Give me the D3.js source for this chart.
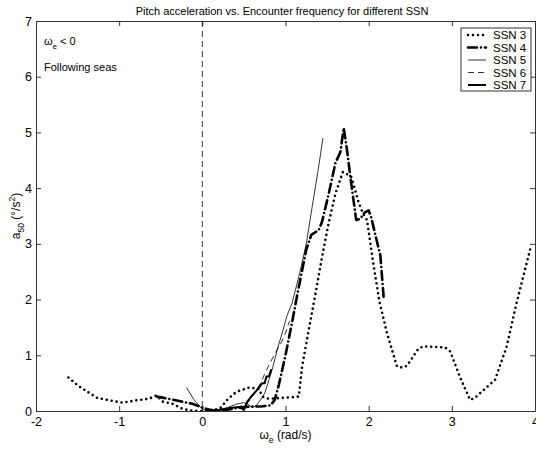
<!DOCTYPE html>
<html>
<head>
<meta charset="utf-8">
<script src="https://cdn.jsdelivr.net/npm/d3@7"></script>
<style>
body { margin: 0; background: #fff; }
text { font-family: "Liberation Sans", Arial, sans-serif; }
</style>
</head>
<body>
<div id="chart"></div>
<script>
// data
var x3 = [-1.61,-1.48,-1.27,-1.12,-0.96,-0.8,-0.64,-0.55,-0.48,-0.36,-0.24,-0.15,-0.05,0.05,0.15,0.22,0.3,0.37,0.44,0.56,0.68,0.72,0.8,0.9,1.0,1.1,1.16,1.2,1.28,1.37,1.44,1.52,1.6,1.69,1.74,1.79,1.84,1.88,1.93,1.98,2.05,2.13,2.22,2.34,2.4,2.46,2.59,2.65,2.92,2.98,3.1,3.22,3.28,3.52,3.66,3.78,3.95];
var y3 = [0.6,0.44,0.24,0.19,0.15,0.19,0.22,0.28,0.17,0.13,0.04,0.01,0,0,0.02,0.06,0.2,0.3,0.36,0.42,0.4,0.26,0.22,0.23,0.24,0.25,0.26,0.8,1.46,2.18,2.77,3.38,3.9,4.29,4.25,4.2,3.95,3.74,3.55,3.43,2.7,1.96,1.4,0.8,0.78,0.81,1.1,1.16,1.14,1.07,0.6,0.2,0.24,0.56,1.16,1.95,2.95];

var x4 = [-0.55,-0.48,-0.25,-0.12,0,0.1,0.2,0.3,0.4,0.5,0.6,0.7,0.82,0.87,0.92,1.0,1.08,1.15,1.25,1.31,1.4,1.44,1.52,1.6,1.66,1.7,1.74,1.78,1.85,1.9,1.95,2.0,2.03,2.09,2.14,2.18];
var y4 = [0.26,0.24,0.17,0.13,0.06,0.02,0,0.02,0.05,0.07,0.08,0.08,0.1,0.2,0.47,1.0,1.6,2.15,2.9,3.16,3.25,3.4,3.9,4.45,4.65,5.08,4.68,4.2,3.43,3.45,3.56,3.6,3.48,3.1,2.8,2.05];

var x5 = [-0.19,-0.1,0,0.1,0.2,0.3,0.4,0.5,0.55,0.6,0.65,0.7,0.75,0.8,0.85,0.9,0.96,1.02,1.08,1.16,1.25,1.32,1.39,1.45];
var y5 = [0.42,0.2,0.03,0,0.02,0.06,0.12,0.15,0.12,0.06,0.1,0.2,0.32,0.55,0.8,1.1,1.4,1.72,1.94,2.41,3.0,3.66,4.3,4.9];

var x6 = [0.05,0.15,0.25,0.35,0.45,0.55,0.62,0.7,0.76,0.82,0.88,0.94,1.0,1.05];
var y6 = [0,0.01,0.03,0.05,0.08,0.15,0.3,0.5,0.7,0.88,1.05,1.2,1.4,1.62];

var x7 = [0.05,0.15,0.25,0.35,0.45,0.5,0.54,0.6,0.63,0.68,0.72,0.75,0.77,0.8,0.83];
var y7 = [0,0.01,0.03,0.06,0.07,0.02,0.17,0.28,0.33,0.42,0.5,0.5,0.62,0.62,0.75];

var names = ["SSN 3", "SSN 4", "SSN 5", "SSN 6", "SSN 7"];
var xTicks = [-2, -1, 0, 1, 2, 3, 4];
var yTicks = [0, 1, 2, 3, 4, 5, 6, 7];

var styles = [
    {w: 2.6, dash: "0 5", cap: "round"},
    {w: 2.6, dash: "9 4 0 4", cap: "round"},
    {w: 0.8, dash: null, cap: "butt"},
    {w: 0.8, dash: "6 4", cap: "butt"},
    {w: 2, dash: null, cap: "butt"}
];

var width = 536, height = 450;
var pL = 36, pR = 535, pT = 21, pB = 411;

var svg = d3.select("#chart").append("svg").attr("width", width).attr("height", height);

var x = d3.scaleLinear().domain([-2, 4]).range([pL, pR]);
var y = d3.scaleLinear().domain([0, 7]).range([pB, pT]);

var axisColor = "#333";
var fmt = function(d) { return String(d); };

// axes, ticks pointing in
svg.append("g").attr("transform", "translate(0," + pB + ")")
    .call(d3.axisBottom(x).tickValues(xTicks).tickSizeInner(-5).tickSizeOuter(0).tickPadding(6).tickFormat(fmt))
    .call(function(g) { g.selectAll("text").attr("font-size", 12.5).attr("fill", "#000"); });
svg.append("g").attr("transform", "translate(0," + pT + ")")
    .call(d3.axisTop(x).tickValues(xTicks).tickSizeInner(-5).tickSizeOuter(0).tickFormat(""));
svg.append("g").attr("transform", "translate(" + pL + ",0)")
    .call(d3.axisLeft(y).tickValues(yTicks).tickSizeInner(-5).tickSizeOuter(0).tickPadding(4).tickFormat(fmt))
    .call(function(g) { g.selectAll("text").attr("font-size", 12.5).attr("fill", "#000"); });
svg.append("g").attr("transform", "translate(" + pR + ",0)")
    .call(d3.axisRight(y).tickValues(yTicks).tickSizeInner(-5).tickSizeOuter(0).tickFormat(""));
svg.selectAll(".domain, .tick line").attr("stroke", axisColor);

// the zero line
svg.append("line")
    .attr("x1", x(0)).attr("x2", x(0)).attr("y1", pT).attr("y2", pB)
    .attr("stroke", "#000").attr("stroke-width", 0.8).attr("stroke-dasharray", "6 4");

var line = d3.line().x(function(d) { return x(d[0]); }).y(function(d) { return y(d[1]); });

var series = [d3.zip(x3, y3), d3.zip(x4, y4), d3.zip(x5, y5), d3.zip(x6, y6), d3.zip(x7, y7)];

svg.append("defs").append("clipPath").attr("id", "clip")
    .append("rect").attr("x", pL).attr("y", pT).attr("width", pR - pL).attr("height", pB - pT);

svg.append("g").attr("clip-path", "url(#clip)")
    .selectAll("path").data(series).enter().append("path")
    .attr("d", line)
    .attr("fill", "none")
    .attr("stroke", "#000")
    .attr("stroke-width", function(d, i) { return styles[i].w; })
    .attr("stroke-dasharray", function(d, i) { return styles[i].dash; })
    .attr("stroke-linecap", function(d, i) { return styles[i].cap; })
    .attr("stroke-linejoin", "round");

// title
svg.append("text").attr("x", 282).attr("y", 15).attr("text-anchor", "middle")
    .attr("font-size", 11).text("Pitch acceleration vs. Encounter frequency for different SSN");

// x label
var xl = svg.append("text").attr("x", x(1)).attr("y", 439).attr("text-anchor", "middle").attr("font-size", 12);
xl.append("tspan").text("ω");
xl.append("tspan").attr("font-size", 8.5).attr("dy", 4).text("e");
xl.append("tspan").attr("dy", -4).text(" (rad/s)");

// y label
var yl = svg.append("text").attr("transform", "translate(20," + y(3.5) + ") rotate(-90)")
    .attr("text-anchor", "middle").attr("font-size", 12);
yl.append("tspan").text("a");
yl.append("tspan").attr("font-size", 8.5).attr("dy", 4).text("50");
yl.append("tspan").attr("dy", -4).text(" (°/s");
yl.append("tspan").attr("font-size", 8.5).attr("dy", -5).text("2");
yl.append("tspan").attr("dy", 5).text(")");

// annotations
var a1 = svg.append("text").attr("x", 44).attr("y", 45).attr("font-size", 11);
a1.append("tspan").text("ω");
a1.append("tspan").attr("font-size", 8).attr("dy", 4).text("e");
a1.append("tspan").attr("dy", -4).text(" < 0");
svg.append("text").attr("x", 44).attr("y", 71).attr("font-size", 11).text("Following seas");

// legend
var lg = svg.append("g");
lg.append("rect").attr("x", 461).attr("y", 28).attr("width", 70).attr("height", 63)
    .attr("fill", "#fff").attr("stroke", axisColor);
var item = lg.selectAll("g").data(names).enter().append("g")
    .attr("transform", function(d, i) { return "translate(0," + (35 + i * 12.5) + ")"; });
item.append("line").attr("x1", 468).attr("x2", 486).attr("y1", 0).attr("y2", 0)
    .attr("stroke", "#000")
    .attr("stroke-width", function(d, i) { return styles[i].w; })
    .attr("stroke-dasharray", function(d, i) { return styles[i].dash; })
    .attr("stroke-linecap", function(d, i) { return styles[i].cap; });
item.append("text").attr("x", 493).attr("y", 4).attr("font-size", 11.5).text(function(d) { return d; });
</script>
</body>
</html>
